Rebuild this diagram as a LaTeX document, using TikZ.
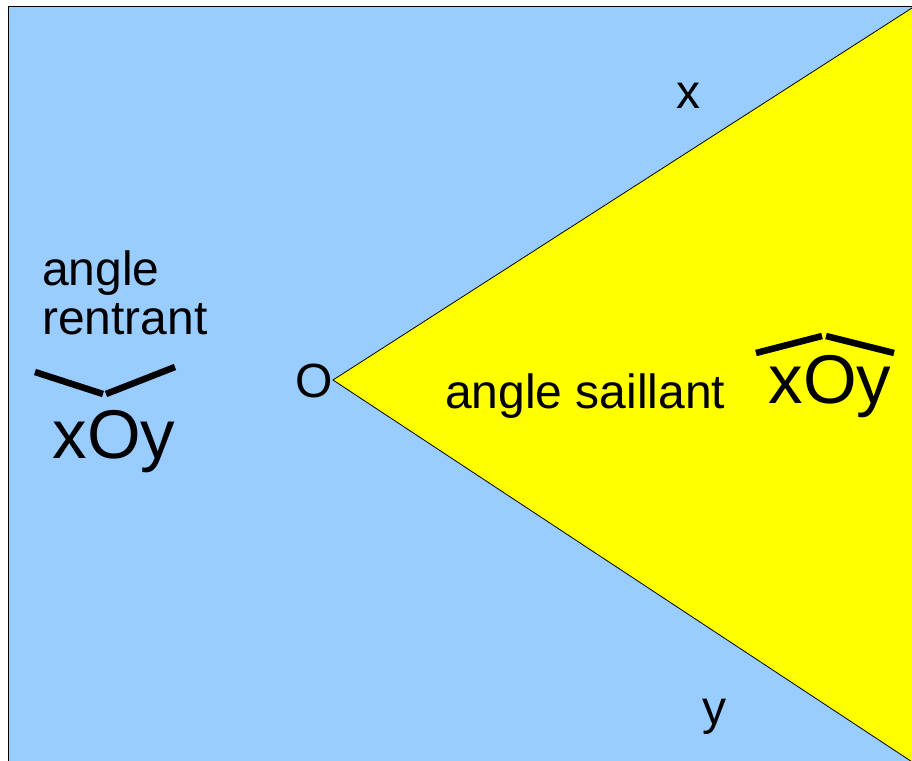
\documentclass[tikz,border=0pt]{standalone}
\usepackage{fontspec}
\setmainfont{Liberation Sans}
\definecolor{anglesky}{HTML}{99CCFF}
\definecolor{angleyellow}{HTML}{FFFF00}
\tikzset{
  plane/.style={draw=black,fill=anglesky,line width=1.3pt},
  sector/.style={draw=black,fill=angleyellow,line width=.8pt},
  word/.style={font=\fontsize{48}{51}\selectfont,inner sep=0pt,text=black},
  bigword/.style={font=\fontsize{69}{72}\selectfont,inner sep=0pt,text=black},
  hat/.style={draw=black,line width=6.5pt},
}

\begin{document}
\begin{tikzpicture}[x=1pt,y=-1pt]
  \useasboundingbox (0,0) rectangle (912,760);
  \clip (0,0) rectangle (912,760);
  \path[plane] (8.5,6.5) rectangle (930,780);
  \coordinate (o) at (333,380);
  \coordinate (xend) at (930,-3.6);
  \coordinate (yend) at (930,773.7);
  \path[sector] (o) -- (xend) -- (yend) -- cycle;
  \node[word,anchor=base] (xlabel) at (688,108) {x};
  \node[word,anchor=base] (ylabel) at (714,724) {y};
  \node[word,anchor=base] (olabel) at (314,397) {O};
  \node[word,anchor=base west] (rentrant1) at (42,285) {angle};
  \node[word,anchor=base west] (rentrant2) at (42,334) {rentrant};
  \node[word,anchor=base west] (saillant) at (445,408) {angle saillant};
  \node[bigword,anchor=base] (xoyleft) at (114,458) {xOy};
  \draw[hat] (35,372) -- (103,394);
  \draw[hat] (106,394) -- (175,367);
  \node[bigword,anchor=base] (xoyright) at (830,403) {xOy};
  \draw[hat] (756,353) -- (822,336);
  \draw[hat] (826,336) -- (894,353);
\end{tikzpicture}
\end{document}
